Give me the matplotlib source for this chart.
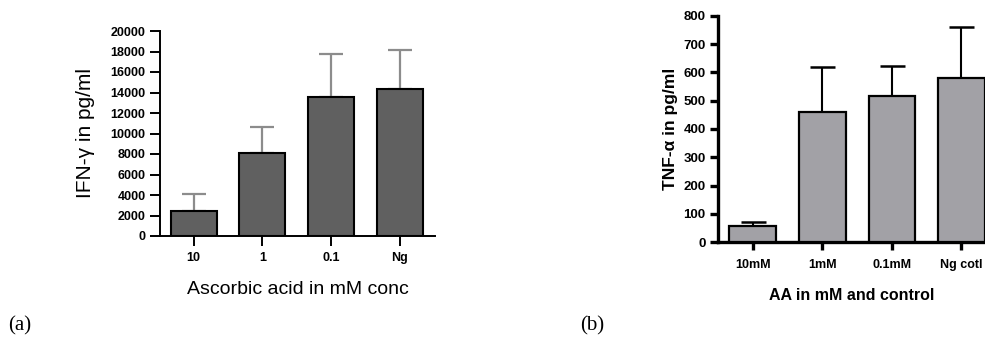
import matplotlib.pyplot as plt
from matplotlib import font_manager

# panel (a): IFN-gamma
ifn_labels = ['10', '1', '0.1', 'Ng']
ifn_means = [2400, 8050, 13600, 14300]
ifn_err = [1650, 2550, 4200, 3850]

# panel (b): TNF-alpha
tnf_labels = ['10mM', '1mM', '0.1mM', 'Ng cotl']
tnf_means = [57, 461, 515, 581]
tnf_err = [15, 158, 108, 180]

names = {f.name for f in font_manager.fontManager.ttflist}
narrow = 'Liberation Sans Narrow' if 'Liberation Sans Narrow' in names else 'Liberation Sans'

plt.rcParams['font.family'] = ['Liberation Sans', 'DejaVu Sans']

fig = plt.figure(figsize=(9.85, 3.37), dpi=100)


def style_axis(ax, lw, tick_len):
    ax.spines['top'].set_visible(False)
    ax.spines['right'].set_visible(False)
    ax.spines['left'].set_linewidth(lw)
    ax.spines['bottom'].set_linewidth(lw)
    ax.tick_params(axis='both', direction='out', length=tick_len, width=lw)


# ---- (a)
ax1 = fig.add_axes([160 / 985, 1 - 236 / 337, 275 / 985, 205 / 337])
x = range(len(ifn_labels))
ax1.bar(x, ifn_means, width=0.67, color='#606060', edgecolor='black', linewidth=1.5, zorder=3)
ax1.errorbar(x, ifn_means, yerr=[[0] * 4, ifn_err], fmt='none', ecolor='#8c8c8c',
             elinewidth=1.6, capsize=8.5, capthick=1.6, zorder=2)
ax1.set_xlim(-0.49, 3.51)
ax1.set_ylim(0, 20000)
ax1.set_yticks(range(0, 20001, 2000))
ax1.set_xticks(list(x))
ax1.set_xticklabels(ifn_labels)
style_axis(ax1, 1.4, 7.5)
ax1.tick_params(axis='both', labelsize=9, pad=3)
ax1.tick_params(axis='x', pad=4)
for t in ax1.get_xticklabels() + ax1.get_yticklabels():
    t.set_fontweight('bold')
ax1.set_ylabel('IFN-\u03b3 in pg/ml', fontsize=15, labelpad=11)
ax1.set_xlabel('Ascorbic acid in mM conc', fontsize=14, labelpad=12)

# ---- (b)
ax2 = fig.add_axes([718 / 985, 1 - 242.3 / 337, 267 / 985, 226.6 / 337])
x = range(len(tnf_labels))
ax2.bar(x, tnf_means, width=0.67, color='#a2a1a6', edgecolor='black', linewidth=1.6, zorder=3)
ax2.errorbar(x, tnf_means, yerr=[[0] * 4, tnf_err], fmt='none', ecolor='black',
             elinewidth=1.5, capsize=9, capthick=1.8, zorder=2)
ax2.set_xlim(-0.5, 3.34)
ax2.set_ylim(0, 800)
ax2.set_yticks(range(0, 801, 100))
ax2.set_xticks(list(x))
ax2.set_xticklabels(tnf_labels)
style_axis(ax2, 2.4, 6)
ax2.tick_params(axis='y', labelsize=9.5, pad=3)
ax2.tick_params(axis='x', labelsize=9, pad=6)
for t in ax2.get_xticklabels() + ax2.get_yticklabels():
    t.set_fontweight('bold')
    t.set_family(narrow)
ax2.set_ylabel('TNF-\u03b1 in pg/ml', fontsize=12.5, fontweight='bold', labelpad=4)
ax2.set_xlabel('AA in mM and control', fontsize=11.5, fontweight='bold', labelpad=12)

# panel labels
fig.text(8 / 985, 1 - 335 / 337, '(a)', fontsize=15, family='Liberation Serif', va='bottom')
fig.text(580 / 985, 1 - 335 / 337, '(b)', fontsize=15, family='Liberation Serif', va='bottom')

fig.savefig('out.png', dpi=100)
